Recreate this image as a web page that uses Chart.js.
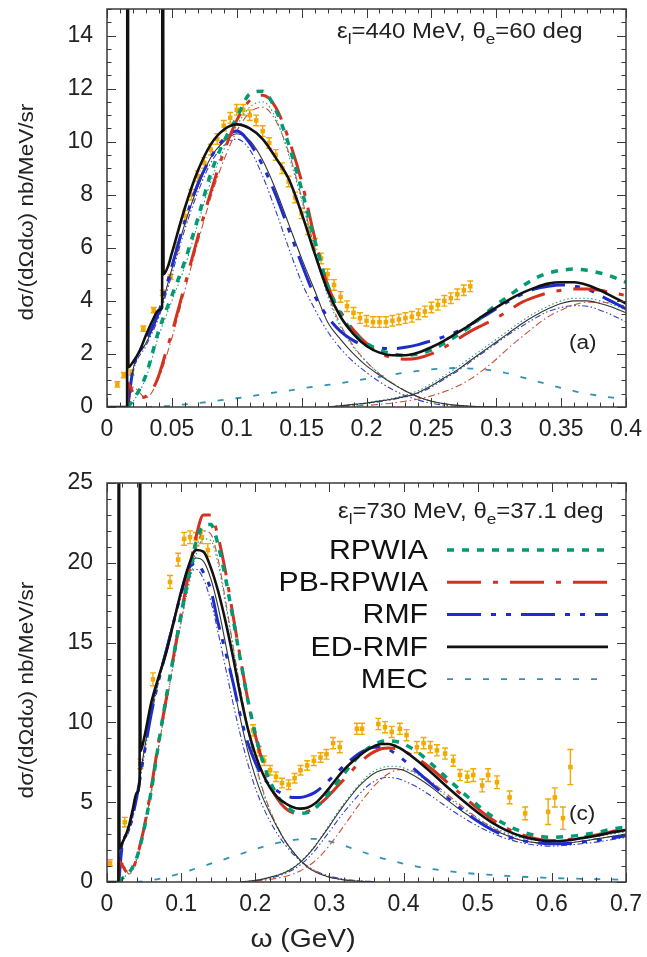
<!DOCTYPE html>
<html>
<head>
<meta charset="utf-8">
<script src="https://cdn.jsdelivr.net/npm/chart.js@4.4.1/dist/chart.umd.min.js"></script>
<style>
  html, body { margin: 0; padding: 0; background: #fff; }
  #wrap { position: relative; width: 647px; height: 957px; }
  canvas { display: block; position: absolute; left: 0; }
</style>
</head>
<body>
<div id="wrap">
  <canvas id="panelA" width="647" height="460" style="top:0"></canvas>
  <canvas id="panelC" width="647" height="497" style="top:460px"></canvas>
</div>
<script>
// ===================== panel (a): eps = 440 MeV, theta = 60 deg =====================
const xTicksA = [0, 0.05, 0.1, 0.15, 0.2, 0.25, 0.3, 0.35, 0.4];
const yTicksA = [0, 2, 4, 6, 8, 10, 12, 14];

// common omega grid (GeV)
const gridA = [0.016, 0.02, 0.03, 0.04, 0.05, 0.06, 0.07, 0.08, 0.09, 0.10, 0.11, 0.12, 0.13, 0.14, 0.15,
  0.16, 0.17, 0.18, 0.19, 0.20, 0.21, 0.22, 0.23, 0.24, 0.25, 0.26, 0.27, 0.28, 0.29, 0.30,
  0.31, 0.32, 0.33, 0.34, 0.35, 0.36, 0.37, 0.38, 0.39, 0.40];

const rpwiaA = [0, 0.25, 1.2, 2.9, 4.2, 5.5, 7.1, 8.8, 10.0, 10.9, 11.8, 11.9, 11.2, 9.9, 8.2,
  6.3, 4.6, 3.5, 2.8, 2.4, 2.15, 2.0, 1.95, 2.0, 2.15, 2.4, 2.7, 3.05, 3.45, 3.85,
  4.2, 4.55, 4.85, 5.05, 5.15, 5.2, 5.15, 5.05, 4.9, 4.7];

const rmfA = [0, 1.4, 2.5, 3.6, 5.3, 7.0, 8.4, 9.4, 10.1, 10.4, 9.95, 9.1, 8.0, 6.7, 5.4,
  4.2, 3.4, 2.85, 2.5, 2.3, 2.22, 2.2, 2.25, 2.35, 2.5, 2.65, 2.85, 3.1, 3.4, 3.7,
  4.0, 4.25, 4.45, 4.55, 4.6, 4.55, 4.45, 4.2, 3.95, 3.7];

const pbX_A = [0.0158, 0.016, 0.018, 0.02, 0.025, 0.03, 0.035, 0.04, 0.045, 0.05,
  0.06, 0.07, 0.08, 0.09, 0.10, 0.11, 0.12, 0.13, 0.14, 0.15, 0.16, 0.17, 0.18, 0.19, 0.20,
  0.21, 0.22, 0.23, 0.24, 0.25, 0.26, 0.27, 0.28, 0.29, 0.30, 0.31, 0.32, 0.33, 0.34, 0.35,
  0.36, 0.37, 0.38, 0.39, 0.40];
const pbA = [0, 0.9, 0.75, 0.55, 0.35, 0.4, 0.65, 1.2, 2.0, 2.8,
  4.6, 6.4, 8.1, 9.6, 10.8, 11.55, 11.75, 11.3, 10.1, 8.5, 6.4, 4.6, 3.6, 2.9, 2.4,
  2.05, 1.85, 1.8, 1.85, 2.0, 2.25, 2.55, 2.85, 3.1, 3.35, 3.65, 3.95, 4.15, 4.3, 4.4,
  4.45, 4.45, 4.4, 4.3, 4.2];

// ED-RMF total, including the two narrow discrete peaks at low omega
const edX_A = [0, 0.0155, 0.0158, 0.0165, 0.020, 0.025, 0.030, 0.035, 0.040, 0.0425, 0.0428, 0.0436, 0.047, 0.050,
  0.06, 0.07, 0.08, 0.09, 0.10, 0.11, 0.12, 0.13, 0.14, 0.15, 0.16, 0.17, 0.18, 0.19, 0.20,
  0.21, 0.22, 0.23, 0.24, 0.25, 0.26, 0.27, 0.28, 0.29, 0.30, 0.31, 0.32, 0.33, 0.34, 0.35,
  0.36, 0.37, 0.38, 0.39, 0.40];
const edA = [0, 0, 40, 1.5, 1.7, 2.1, 2.7, 3.25, 3.65, 3.75, 40, 5.0, 5.3, 5.8,
  7.5, 8.9, 9.9, 10.45, 10.65, 10.5, 10.1, 9.4, 8.6, 7.3, 5.8, 4.4, 3.4, 2.75, 2.3,
  2.05, 1.95, 1.95, 2.05, 2.25, 2.5, 2.8, 3.1, 3.45, 3.75, 4.05, 4.3, 4.5, 4.65, 4.7,
  4.7, 4.6, 4.4, 4.15, 3.9];

// quasielastic contributions (thin lines)
const gridQA = [0.016, 0.02, 0.03, 0.04, 0.05, 0.06, 0.07, 0.08, 0.09, 0.10, 0.11, 0.12, 0.13, 0.14, 0.15,
  0.16, 0.17, 0.18, 0.19, 0.20, 0.21, 0.22, 0.23, 0.24, 0.25, 0.26, 0.27, 0.28, 0.29, 0.30];
const qeEdA  = [0, 1.4, 2.4, 3.5, 5.2, 6.9, 8.3, 9.4, 10.0, 10.3, 10.05, 9.3, 8.2, 6.9, 5.6,
  4.4, 3.2, 2.55, 2.0, 1.55, 1.2, 0.88, 0.6, 0.38, 0.22, 0.12, 0.06, 0.03, 0.01, 0];
const qeRmfA = [0, 1.3, 2.3, 3.4, 5.0, 6.7, 8.1, 9.2, 9.85, 10.1, 9.7, 8.7, 7.4, 6.0, 4.7,
  3.7, 2.85, 2.2, 1.7, 1.3, 0.95, 0.66, 0.43, 0.26, 0.14, 0.07, 0.03, 0.01, 0, 0];
const qePbA  = [0, 0.75, 0.35, 1.1, 2.6, 4.4, 6.2, 7.9, 9.3, 10.4, 11.1, 11.3, 10.8, 9.6, 7.9,
  6.0, 4.3, 3.1, 2.3, 1.7, 1.25, 0.9, 0.6, 0.38, 0.22, 0.12, 0.06, 0.03, 0.01, 0];
const qeRpA  = [0, 0.2, 1.1, 2.7, 4.0, 5.3, 6.9, 8.5, 9.7, 10.6, 11.3, 11.5, 10.9, 9.5, 7.8,
  5.9, 4.2, 3.0, 2.25, 1.7, 1.25, 0.9, 0.6, 0.38, 0.22, 0.12, 0.06, 0.03, 0.01, 0];

// Delta-region contributions (thin lines)
const gridDA = [0.17, 0.18, 0.19, 0.20, 0.21, 0.22, 0.23, 0.24, 0.25, 0.26, 0.27, 0.28,
  0.29, 0.30, 0.31, 0.32, 0.33, 0.34, 0.35, 0.36, 0.37, 0.38, 0.39, 0.40];
const dEdA  = [0, 0.05, 0.1, 0.15, 0.22, 0.3, 0.4, 0.55, 0.8, 1.1, 1.4, 1.75,
  2.1, 2.45, 2.8, 3.15, 3.45, 3.7, 3.9, 4.0, 4.0, 3.9, 3.75, 3.55];
const dRmfA = [0, 0.04, 0.08, 0.13, 0.2, 0.28, 0.38, 0.52, 0.75, 1.05, 1.35, 1.7,
  2.05, 2.4, 2.75, 3.05, 3.35, 3.6, 3.75, 3.82, 3.8, 3.65, 3.45, 3.2];
const dPbA  = [0, 0.02, 0.04, 0.06, 0.1, 0.15, 0.22, 0.3, 0.42, 0.58, 0.78, 1.05,
  1.4, 1.8, 2.25, 2.65, 3.05, 3.4, 3.65, 3.85, 3.95, 3.95, 3.9, 3.8];
const dRpA  = [0, 0.05, 0.1, 0.16, 0.24, 0.33, 0.45, 0.62, 0.88, 1.18, 1.5, 1.85,
  2.2, 2.55, 2.9, 3.25, 3.55, 3.8, 4.0, 4.1, 4.1, 4.0, 3.85, 3.65];

// meson-exchange currents
const gridMA = [0.03, 0.04, 0.05, 0.06, 0.07, 0.08, 0.09, 0.10, 0.11, 0.12, 0.13, 0.14, 0.15, 0.16,
  0.17, 0.18, 0.19, 0.20, 0.21, 0.22, 0.23, 0.24, 0.25, 0.26, 0.27, 0.28, 0.29, 0.30,
  0.31, 0.32, 0.33, 0.34, 0.35, 0.36, 0.37, 0.38, 0.39, 0.40];
const mecA = [0, 0.02, 0.05, 0.1, 0.15, 0.2, 0.27, 0.33, 0.4, 0.48, 0.55, 0.62, 0.7, 0.77,
  0.83, 0.9, 0.98, 1.06, 1.14, 1.22, 1.3, 1.36, 1.42, 1.45, 1.47, 1.45, 1.42, 1.35,
  1.25, 1.12, 0.98, 0.85, 0.72, 0.6, 0.5, 0.42, 0.35, 0.3];

// measured cross sections
const expX_A = [0.008, 0.013, 0.019, 0.028, 0.036, 0.043, 0.049, 0.054, 0.060, 0.065,
  0.070, 0.075, 0.080, 0.085, 0.090, 0.095, 0.100, 0.105, 0.110, 0.115, 0.120, 0.125,
  0.130, 0.135, 0.140, 0.145, 0.150, 0.155, 0.160, 0.165, 0.170, 0.175, 0.180, 0.185,
  0.190, 0.195, 0.200, 0.205, 0.210, 0.215, 0.220, 0.225, 0.230, 0.235, 0.240, 0.245,
  0.250, 0.255, 0.260, 0.265, 0.270, 0.275, 0.280];
const expY_A = [0.85, 1.2, 1.3, 2.95, 3.65, 4.3, 4.9, 6.0, 7.2, 8.0,
  8.7, 9.2, 9.7, 10.1, 10.6, 10.9, 11.2, 11.2, 11.0, 10.8, 10.4, 9.95,
  9.5, 9.0, 8.5, 7.9, 7.3, 6.7, 6.15, 5.6, 5.0, 4.6, 4.15, 3.8,
  3.55, 3.35, 3.25, 3.2, 3.2, 3.2, 3.25, 3.3, 3.35, 3.4, 3.5, 3.6,
  3.75, 3.85, 4.0, 4.1, 4.25, 4.4, 4.55];
const expE_A = [0.1, 0.1, 0.1, 0.1, 0.1, 0.1, 0.1, 0.2, 0.2, 0.2,
  0.2, 0.2, 0.2, 0.2, 0.2, 0.2, 0.2, 0.2, 0.2, 0.2, 0.2, 0.2,
  0.2, 0.2, 0.2, 0.2, 0.2, 0.2, 0.2, 0.2, 0.2, 0.2, 0.2, 0.2,
  0.2, 0.2, 0.2, 0.2, 0.2, 0.2, 0.2, 0.2, 0.2, 0.2, 0.2, 0.2,
  0.2, 0.2, 0.2, 0.2, 0.2, 0.2, 0.2];

// ===================== panel (c): eps = 730 MeV, theta = 37.1 deg =====================
const xTicksC = [0, 0.1, 0.2, 0.3, 0.4, 0.5, 0.6, 0.7];
const yTicksC = [0, 5, 10, 15, 20, 25];

const gridC = [0.016, 0.02, 0.03, 0.04, 0.05, 0.06, 0.07, 0.08, 0.09, 0.10, 0.11, 0.12, 0.13, 0.14, 0.15,
  0.16, 0.17, 0.18, 0.19, 0.20, 0.21, 0.22, 0.23, 0.24, 0.25, 0.26, 0.27, 0.28, 0.29, 0.30,
  0.31, 0.32, 0.33, 0.34, 0.35, 0.36, 0.37, 0.38, 0.39, 0.40,
  0.42, 0.44, 0.46, 0.48, 0.50, 0.52, 0.54, 0.56, 0.58, 0.60, 0.62, 0.64, 0.66, 0.68, 0.70];

const rpwiaC = [0, 0.2, 0.6, 1.5, 3.3, 5.8, 8.8, 11.6, 14.2, 16.8, 19.1, 21.3, 22.3, 22.4, 21.1,
  19.0, 16.5, 13.9, 11.4, 9.3, 7.6, 6.3, 5.4, 4.8, 4.45, 4.3, 4.35, 4.6, 5.05, 5.6,
  6.2, 6.8, 7.4, 7.9, 8.3, 8.6, 8.8, 8.85, 8.8, 8.65,
  8.1, 7.3, 6.45, 5.6, 4.8, 4.1, 3.55, 3.15, 2.9, 2.8, 2.85, 2.95, 3.1, 3.3, 3.45];

const rmfC = [0, 2.1, 3.3, 5.3, 8.0, 10.6, 12.7, 14.5, 16.3, 18.1, 19.6, 20.0, 19.4, 18.3, 16.2,
  14.4, 12.5, 10.4, 8.7, 7.5, 6.6, 6.05, 5.7, 5.45, 5.3, 5.3, 5.4, 5.6, 5.95, 6.4,
  6.85, 7.3, 7.7, 8.05, 8.3, 8.45, 8.45, 8.3, 8.0, 7.65,
  6.85, 6.05, 5.25, 4.5, 3.8, 3.25, 2.85, 2.6, 2.45, 2.4, 2.4, 2.5, 2.6, 2.75, 2.9];

const pbX_C = [0.0155, 0.016, 0.02, 0.025, 0.03, 0.035, 0.04, 0.045, 0.05,
  0.06, 0.07, 0.08, 0.09, 0.10, 0.11, 0.12, 0.13, 0.14, 0.15, 0.16, 0.17, 0.18, 0.19, 0.20,
  0.21, 0.22, 0.23, 0.24, 0.25, 0.26, 0.27, 0.28, 0.29, 0.30, 0.31, 0.32, 0.33, 0.34, 0.35,
  0.36, 0.37, 0.38, 0.39, 0.40,
  0.42, 0.44, 0.46, 0.48, 0.50, 0.52, 0.54, 0.56, 0.58, 0.60, 0.62, 0.64, 0.66, 0.68, 0.70];
const pbC = [0, 1.3, 1.1, 0.7, 0.55, 0.8, 1.5, 2.4, 3.4,
  6.0, 8.9, 11.5, 14.2, 16.8, 19.3, 21.6, 23.0, 23.0, 21.6, 19.4, 16.7, 14.0, 11.4, 9.2,
  7.5, 6.1, 5.2, 4.65, 4.35, 4.3, 4.4, 4.65, 5.0, 5.45, 5.95, 6.45, 6.95, 7.45, 7.85,
  8.15, 8.35, 8.4, 8.35, 8.2,
  7.7, 7.0, 6.2, 5.4, 4.6, 3.9, 3.35, 2.95, 2.7, 2.6, 2.65, 2.8, 2.95, 3.15, 3.3];

const edX_C = [0, 0.0155, 0.0158, 0.0168, 0.020, 0.025, 0.030, 0.035, 0.040, 0.044, 0.0443, 0.0452, 0.050,
  0.06, 0.07, 0.08, 0.09, 0.10, 0.11, 0.12, 0.13, 0.14, 0.15, 0.16, 0.17, 0.18, 0.19, 0.20,
  0.21, 0.22, 0.23, 0.24, 0.25, 0.26, 0.27, 0.28, 0.29, 0.30, 0.31, 0.32, 0.33, 0.34, 0.35,
  0.36, 0.37, 0.38, 0.39, 0.40,
  0.42, 0.44, 0.46, 0.48, 0.50, 0.52, 0.54, 0.56, 0.58, 0.60, 0.62, 0.64, 0.66, 0.68, 0.70];
const edC = [0, 0, 60, 2.1, 2.4, 2.9, 3.6, 4.6, 5.6, 6.3, 60, 8.2, 9.0,
  11.3, 12.9, 14.4, 16.3, 18.2, 19.8, 20.8, 20.7, 19.7, 18.2, 16.3, 14.1, 11.7, 9.6, 8.0,
  6.8, 5.9, 5.3, 4.95, 4.7, 4.6, 4.65, 4.9, 5.35, 5.9, 6.5, 7.05, 7.5, 7.9, 8.25,
  8.5, 8.65, 8.65, 8.5, 8.25,
  7.55, 6.75, 5.9, 5.1, 4.35, 3.7, 3.2, 2.85, 2.65, 2.55, 2.6, 2.75, 2.9, 3.1, 3.25];

const gridQC = [0.016, 0.02, 0.03, 0.04, 0.05, 0.06, 0.07, 0.08, 0.09, 0.10, 0.11, 0.12, 0.13, 0.14, 0.15,
  0.16, 0.17, 0.18, 0.19, 0.20, 0.21, 0.22, 0.23, 0.24, 0.25, 0.26, 0.27, 0.28, 0.29, 0.30,
  0.31, 0.32, 0.33, 0.34, 0.35, 0.36];
const qeEdC  = [0, 2.1, 3.4, 5.4, 8.2, 10.8, 12.9, 14.7, 16.5, 18.2, 19.6, 20.3, 20.1, 19.0, 17.2,
  14.9, 12.5, 10.2, 8.2, 6.6, 5.3, 4.3, 3.4, 2.6, 1.95, 1.4, 0.95, 0.65, 0.45, 0.3,
  0.2, 0.13, 0.08, 0.05, 0.03, 0.02];
const qeRmfC = [0, 2.0, 3.2, 5.2, 7.9, 10.5, 12.6, 14.4, 16.2, 17.9, 19.2, 19.6, 19.0, 17.6, 15.6,
  13.4, 11.2, 9.2, 7.4, 5.9, 4.75, 3.8, 3.0, 2.35, 1.8, 1.35, 1.0, 0.72, 0.52, 0.37,
  0.26, 0.18, 0.12, 0.08, 0.05, 0.03];
const qePbC  = [0, 1.2, 0.5, 1.4, 3.3, 5.8, 8.6, 11.1, 13.8, 16.3, 18.7, 20.8, 22.0, 21.8, 20.2,
  17.6, 14.8, 12.1, 9.6, 7.5, 5.8, 4.5, 3.45, 2.6, 1.95, 1.4, 1.0, 0.7, 0.48, 0.32,
  0.21, 0.14, 0.09, 0.05, 0.03, 0.02];
const qeRpC  = [0, 0.2, 0.6, 1.5, 3.2, 5.6, 8.5, 11.2, 13.8, 16.3, 18.5, 20.5, 21.5, 21.4, 19.9,
  17.4, 14.7, 12.0, 9.5, 7.4, 5.7, 4.4, 3.4, 2.55, 1.9, 1.35, 0.95, 0.66, 0.45, 0.3,
  0.2, 0.13, 0.08, 0.05, 0.03, 0.02];

const gridDC = [0.18, 0.19, 0.20, 0.21, 0.22, 0.23, 0.24, 0.25, 0.26, 0.27, 0.28, 0.29, 0.30,
  0.31, 0.32, 0.33, 0.34, 0.35, 0.36, 0.37, 0.38, 0.39, 0.40,
  0.42, 0.44, 0.46, 0.48, 0.50, 0.52, 0.54, 0.56, 0.58, 0.60, 0.62, 0.64, 0.66, 0.68, 0.70];
const dEdC  = [0, 0.05, 0.1, 0.18, 0.3, 0.42, 0.6, 0.85, 1.2, 1.65, 2.2, 2.85, 3.5,
  4.2, 4.85, 5.45, 6.0, 6.45, 6.8, 7.0, 7.1, 7.1, 7.0,
  6.5, 5.85, 5.1, 4.4, 3.8, 3.3, 2.9, 2.6, 2.45, 2.4, 2.45, 2.55, 2.7, 2.85, 3.0];
const dRmfC = [0, 0.04, 0.08, 0.15, 0.25, 0.36, 0.52, 0.75, 1.05, 1.45, 1.95, 2.55, 3.15,
  3.8, 4.4, 4.95, 5.5, 5.95, 6.3, 6.5, 6.55, 6.5, 6.35,
  5.9, 5.3, 4.65, 4.05, 3.5, 3.05, 2.7, 2.45, 2.3, 2.25, 2.3, 2.4, 2.5, 2.65, 2.8];
const dPbC  = [0, 0.02, 0.05, 0.1, 0.16, 0.24, 0.34, 0.48, 0.68, 0.95, 1.3, 1.75, 2.3,
  2.9, 3.55, 4.2, 4.85, 5.45, 6.0, 6.45, 6.8, 7.0, 7.05,
  6.8, 6.2, 5.45, 4.7, 4.0, 3.4, 2.95, 2.6, 2.45, 2.4, 2.45, 2.55, 2.7, 2.85, 3.0];
const dRpC  = [0, 0.05, 0.1, 0.19, 0.31, 0.44, 0.62, 0.88, 1.25, 1.7, 2.25, 2.9, 3.6,
  4.3, 4.95, 5.55, 6.1, 6.6, 6.95, 7.15, 7.25, 7.25, 7.15,
  6.7, 6.05, 5.3, 4.6, 3.95, 3.45, 3.05, 2.75, 2.6, 2.55, 2.6, 2.7, 2.85, 3.0, 3.15];

const gridMC = [0.04, 0.05, 0.06, 0.07, 0.08, 0.09, 0.10, 0.11, 0.12, 0.13, 0.14, 0.15, 0.16, 0.17,
  0.18, 0.19, 0.20, 0.21, 0.22, 0.23, 0.24, 0.25, 0.26, 0.27, 0.28, 0.29, 0.30, 0.31,
  0.32, 0.33, 0.34, 0.35, 0.36, 0.37, 0.38, 0.39, 0.40,
  0.42, 0.44, 0.46, 0.48, 0.50, 0.52, 0.54, 0.56, 0.58, 0.60, 0.62, 0.64, 0.66, 0.68, 0.70];
const mecC = [0, 0.05, 0.12, 0.2, 0.3, 0.42, 0.55, 0.7, 0.85, 1.0, 1.15, 1.3, 1.45, 1.6,
  1.75, 1.9, 2.05, 2.2, 2.35, 2.45, 2.55, 2.62, 2.68, 2.7, 2.7, 2.65, 2.55, 2.42,
  2.28, 2.12, 1.96, 1.8, 1.65, 1.5, 1.38, 1.26, 1.15,
  0.95, 0.8, 0.68, 0.58, 0.5, 0.44, 0.38, 0.33, 0.29, 0.25, 0.22, 0.2, 0.18, 0.16, 0.15];

const expX_C = [0.004, 0.024, 0.045, 0.062, 0.085, 0.096, 0.104, 0.112, 0.120, 0.128,
  0.136, 0.197, 0.205, 0.212, 0.220, 0.228, 0.236, 0.245, 0.253, 0.261,
  0.270, 0.279, 0.288, 0.296, 0.305, 0.314, 0.337, 0.344, 0.366, 0.375,
  0.384, 0.395, 0.404, 0.418, 0.427, 0.436, 0.445, 0.456, 0.467, 0.476,
  0.486, 0.494, 0.506, 0.514, 0.526, 0.543, 0.564, 0.595, 0.604, 0.615, 0.625];
const expY_C = [1.2, 3.75, 7.4, 12.7, 18.8, 20.2, 21.5, 21.6, 21.5, 21.6,
  20.8, 9.5, 8.2, 7.6, 7.0, 6.6, 6.2, 6.1, 6.5, 7.0,
  7.3, 7.6, 7.8, 8.0, 8.7, 8.45, 9.6, 9.6, 9.9, 9.7,
  9.4, 9.6, 9.2, 8.45, 8.7, 8.45, 8.25, 8.05, 7.6, 6.7,
  6.6, 6.7, 6.05, 6.7, 6.25, 5.3, 4.3, 4.4, 5.3, 4.0, 7.2];
const expE_C = [0.2, 0.3, 0.3, 0.4, 0.4, 0.4, 0.4, 0.4, 0.4, 0.4,
  0.4, 0.35, 0.3, 0.3, 0.3, 0.3, 0.3, 0.3, 0.3, 0.3,
  0.3, 0.3, 0.3, 0.3, 0.35, 0.35, 0.35, 0.35, 0.35, 0.35,
  0.35, 0.35, 0.35, 0.35, 0.35, 0.35, 0.35, 0.35, 0.35, 0.35,
  0.35, 0.4, 0.4, 0.4, 0.4, 0.4, 0.4, 0.8, 0.6, 0.7, 1.1];

const legendLabels = ['RPWIA', 'PB-RPWIA', 'RMF', 'ED-RMF', 'MEC'];

// ===================== styles =====================
const FONT = '"Liberation Sans", Arial, sans-serif';
const ORANGE = '#f2a900';
const STYLE = {
  rpwia: { color: '#009b73', width: 3.5, dash: [7, 8] },
  pb:    { color: '#d2321e', width: 3,   dash: [34, 12, 5, 12] },
  rmf:   { color: '#1e2dc8', width: 3,   dash: [34, 10, 5, 10, 5, 10] },
  ed:    { color: '#111111', width: 2.6, dash: [] },
  mec:   { color: '#2f93b5', width: 1.8, dash: [6, 12] }
};
const THIN = {
  rpwia: { color: '#1aa07c', width: 1.1, dash: [1.5, 2.5] },
  pb:    { color: '#c8503c', width: 1.1, dash: [7, 3, 1.5, 3] },
  rmf:   { color: '#3040c4', width: 1.1, dash: [6, 2.5, 1.5, 2.5, 1.5, 2.5] },
  ed:    { color: '#333333', width: 1.1, dash: [] }
};

const pts = (xs, ys) => xs.map((x, i) => ({ x, y: ys[i] }));

function curve(xs, ys, st, order) {
  return {
    data: pts(xs, ys), showLine: true, pointRadius: 0, pointHoverRadius: 0,
    borderColor: st.color, borderWidth: st.width, borderDash: st.dash,
    cubicInterpolationMode: 'monotone', fill: false, clip: 0, order
  };
}
function measured(xs, ys, errs) {
  return {
    data: pts(xs, ys), errors: errs, showLine: false, pointStyle: 'rect',
    pointRadius: 3.2, pointBackgroundColor: ORANGE, pointBorderWidth: 0,
    clip: 0, order: 20
  };
}

// ---- text helpers (labels are slightly widened, like the Helvetica output of the original plots)
const STRETCH = 1.13;
function richText(ctx, x, y, parts, size) {
  ctx.save();
  ctx.translate(x, y);
  ctx.scale(STRETCH, 1);
  ctx.fillStyle = '#222';
  ctx.textBaseline = 'alphabetic';
  ctx.textAlign = 'left';
  let cx = 0;
  for (const p of parts) {
    const s = p.sub ? size * 0.72 : size;
    ctx.font = `${s}px ${FONT}`;
    ctx.fillText(p.t, cx, p.sub ? size * 0.3 : 0);
    cx += ctx.measureText(p.t).width;
  }
  ctx.restore();
}

// ---- plugins
const errorBars = {
  id: 'errorBars',
  beforeDatasetsDraw(chart) {
    const { ctx, chartArea: a, scales: { x, y } } = chart;
    ctx.save();
    ctx.beginPath(); ctx.rect(a.left, a.top, a.width, a.height); ctx.clip();
    ctx.strokeStyle = ORANGE; ctx.lineWidth = 1.4;
    chart.data.datasets.forEach(ds => {
      if (!ds.errors) return;
      ds.data.forEach((p, i) => {
        const px = x.getPixelForValue(p.x);
        const y0 = y.getPixelForValue(p.y - ds.errors[i]);
        const y1 = y.getPixelForValue(p.y + ds.errors[i]);
        ctx.beginPath();
        ctx.moveTo(px, y0); ctx.lineTo(px, y1);
        ctx.moveTo(px - 3, y0); ctx.lineTo(px + 3, y0);
        ctx.moveTo(px - 3, y1); ctx.lineTo(px + 3, y1);
        ctx.stroke();
      });
    });
    ctx.restore();
  }
};

const frameTicks = {
  id: 'frameTicks',
  afterDatasetsDraw(chart, args, o) {
    const { ctx, chartArea: a, scales: { x, y } } = chart;
    ctx.save();
    ctx.strokeStyle = '#3a3a3a';
    ctx.lineWidth = 1;
    ctx.beginPath();
    const nx = Math.round((x.max - x.min) / o.xMinor);
    for (let i = 0; i <= nx; i++) {
      const px = Math.round(x.getPixelForValue(x.min + i * o.xMinor)) + 0.5;
      const len = i % o.xPer === 0 ? 9 : 4.5;
      ctx.moveTo(px, a.bottom); ctx.lineTo(px, a.bottom - len);
      ctx.moveTo(px, a.top); ctx.lineTo(px, a.top + len);
    }
    const ny = Math.round((y.max - y.min) / o.yMinor);
    for (let i = 0; i <= ny; i++) {
      const py = Math.round(y.getPixelForValue(y.min + i * o.yMinor)) + 0.5;
      const len = i % o.yPer === 0 ? 9 : 4.5;
      ctx.moveTo(a.left, py); ctx.lineTo(a.left + len, py);
      ctx.moveTo(a.right, py); ctx.lineTo(a.right - len, py);
    }
    ctx.stroke();
    ctx.lineWidth = 1.5;
    ctx.strokeRect(a.left, a.top, a.right - a.left, a.bottom - a.top);
    ctx.restore();
  }
};

const panelText = {
  id: 'panelText',
  afterDraw(chart, args, o) {
    const ctx = chart.ctx;
    richText(ctx, o.infoX, o.infoY, o.info, 21.2);
    richText(ctx, o.tagX, o.tagY, [{ t: o.tag }], 20);
    // y-axis title
    ctx.save();
    ctx.translate(27, o.yTitleY);
    ctx.rotate(-Math.PI / 2);
    ctx.scale(STRETCH, 1);
    ctx.fillStyle = '#222';
    ctx.font = `20px ${FONT}`;
    ctx.textAlign = 'center';
    ctx.textBaseline = 'middle';
    ctx.fillText('d\u03C3/(d\u03A9d\u03C9) nb/MeV/sr', 0, 0);
    ctx.restore();
    if (o.xTitle) {
      ctx.save();
      ctx.translate(o.xTitleX, o.xTitleY);
      ctx.scale(STRETCH, 1);
      ctx.fillStyle = '#222';
      ctx.font = `25px ${FONT}`;
      ctx.textAlign = 'center';
      ctx.textBaseline = 'middle';
      ctx.fillText(o.xTitle, 0, 0);
      ctx.restore();
    }
  }
};

const curveKey = {
  id: 'curveKey',
  afterDatasetsDraw(chart, args, o) {
    if (!o.entries) return;
    const ctx = chart.ctx;
    o.entries.forEach((e, i) => {
      const yy = o.y0 + i * o.dy;
      ctx.save();
      ctx.translate(o.textRight, yy);
      ctx.scale(1.06, 1);
      ctx.fillStyle = '#111';
      ctx.font = `28.5px ${FONT}`;
      ctx.textAlign = 'right';
      ctx.textBaseline = 'middle';
      ctx.fillText(e.label, 0, 1);
      ctx.restore();
      ctx.save();
      ctx.strokeStyle = e.style.color;
      ctx.lineWidth = e.style.width;
      ctx.setLineDash(e.style.dash);
      ctx.beginPath();
      ctx.moveTo(o.x0, yy); ctx.lineTo(o.x1, yy);
      ctx.stroke();
      ctx.restore();
    });
  }
};

function axisCfg(min, max, ticks, fitSize, isX) {
  return {
    type: 'linear', min, max,
    grid: { display: false, drawTicks: false },
    border: { display: false },
    ticks: {
      color: '#222', font: { family: FONT, size: 23 },
      padding: isX ? 9 : 14,
      callback: v => String(v),
      maxRotation: 0, autoSkip: false
    },
    afterBuildTicks: s => { s.ticks = ticks.map(v => ({ value: v })); },
    afterFit: s => {
      if (isX) { s.height = fitSize; s.paddingLeft = 0; s.paddingRight = 0; }
      else { s.width = fitSize; s.paddingTop = 0; s.paddingBottom = 0; }
    }
  };
}

function panelDatasets(c) {
  return [
    measured(c.ex, c.ey, c.ee),
    curve(c.gm, c.mec, STYLE.mec, 12),
    curve(c.gq, c.qeRp, THIN.rpwia, 11),
    curve(c.gq, c.qePb, THIN.pb, 11),
    curve(c.gq, c.qeRmf, THIN.rmf, 11),
    curve(c.gq, c.qeEd, THIN.ed, 10),
    curve(c.gd, c.dRp, THIN.rpwia, 11),
    curve(c.gd, c.dPb, THIN.pb, 11),
    curve(c.gd, c.dRmf, THIN.rmf, 11),
    curve(c.gd, c.dEd, THIN.ed, 10),
    curve(c.grid, c.rmf, STYLE.rmf, 4),
    curve(c.pbX, c.pb, STYLE.pb, 3),
    curve(c.grid, c.rp, STYLE.rpwia, 2),
    curve(c.edX, c.ed, STYLE.ed, 1)
  ];
}

Chart.defaults.font.family = FONT;

new Chart(document.getElementById('panelA'), {
  type: 'scatter',
  data: { datasets: panelDatasets({
    ex: expX_A, ey: expY_A, ee: expE_A, gm: gridMA, mec: mecA,
    gq: gridQA, qeRp: qeRpA, qePb: qePbA, qeRmf: qeRmfA, qeEd: qeEdA,
    gd: gridDA, dRp: dRpA, dPb: dPbA, dRmf: dRmfA, dEd: dEdA,
    grid: gridA, rmf: rmfA, pbX: pbX_A, pb: pbA, rp: rpwiaA, edX: edX_A, ed: edA
  }) },
  options: {
    responsive: false, animation: false, devicePixelRatio: 1,
    layout: { padding: { top: 9, right: 21, bottom: 0, left: 0 } },
    scales: { x: axisCfg(0, 0.4, xTicksA, 53, true), y: axisCfg(0, 15, yTicksA, 107, false) },
    plugins: {
      legend: { display: false }, tooltip: { enabled: false },
      frameTicks: { xMinor: 0.01, xPer: 5, yMinor: 0.5, yPer: 4 },
      panelText: {
        infoX: 337, infoY: 38,
        info: [{ t: '\u03B5' }, { t: 'l', sub: 1 }, { t: '=440 MeV, \u03B8' }, { t: 'e', sub: 1 }, { t: '=60 deg' }],
        tagX: 569, tagY: 349, tag: '(a)', yTitleY: 212
      }
    }
  },
  plugins: [errorBars, frameTicks, panelText]
});

new Chart(document.getElementById('panelC'), {
  type: 'scatter',
  data: { datasets: panelDatasets({
    ex: expX_C, ey: expY_C, ee: expE_C, gm: gridMC, mec: mecC,
    gq: gridQC, qeRp: qeRpC, qePb: qePbC, qeRmf: qeRmfC, qeEd: qeEdC,
    gd: gridDC, dRp: dRpC, dPb: dPbC, dRmf: dRmfC, dEd: dEdC,
    grid: gridC, rmf: rmfC, pbX: pbX_C, pb: pbC, rp: rpwiaC, edX: edX_C, ed: edC
  }) },
  options: {
    responsive: false, animation: false, devicePixelRatio: 1,
    layout: { padding: { top: 23, right: 21, bottom: 0, left: 0 } },
    scales: { x: axisCfg(0, 0.7, xTicksC, 75, true), y: axisCfg(0, 25, yTicksC, 107, false) },
    plugins: {
      legend: { display: false }, tooltip: { enabled: false },
      frameTicks: { xMinor: 0.02, xPer: 5, yMinor: 1, yPer: 5 },
      panelText: {
        infoX: 338, infoY: 58,
        info: [{ t: '\u03B5' }, { t: 'l', sub: 1 }, { t: '=730 MeV, \u03B8' }, { t: 'e', sub: 1 }, { t: '=37.1 deg' }],
        tagX: 569, tagY: 360, tag: '(c)', yTitleY: 230,
        xTitle: '\u03C9 (GeV)', xTitleX: 303, xTitleY: 480
      },
      curveKey: {
        textRight: 428, x0: 447, x1: 608, y0: 90, dy: 32.3,
        entries: legendLabels.map((label, i) => ({ label, style: STYLE[['rpwia', 'pb', 'rmf', 'ed', 'mec'][i]] }))
      }
    }
  },
  plugins: [errorBars, frameTicks, panelText, curveKey]
});
</script>
</body>
</html>
